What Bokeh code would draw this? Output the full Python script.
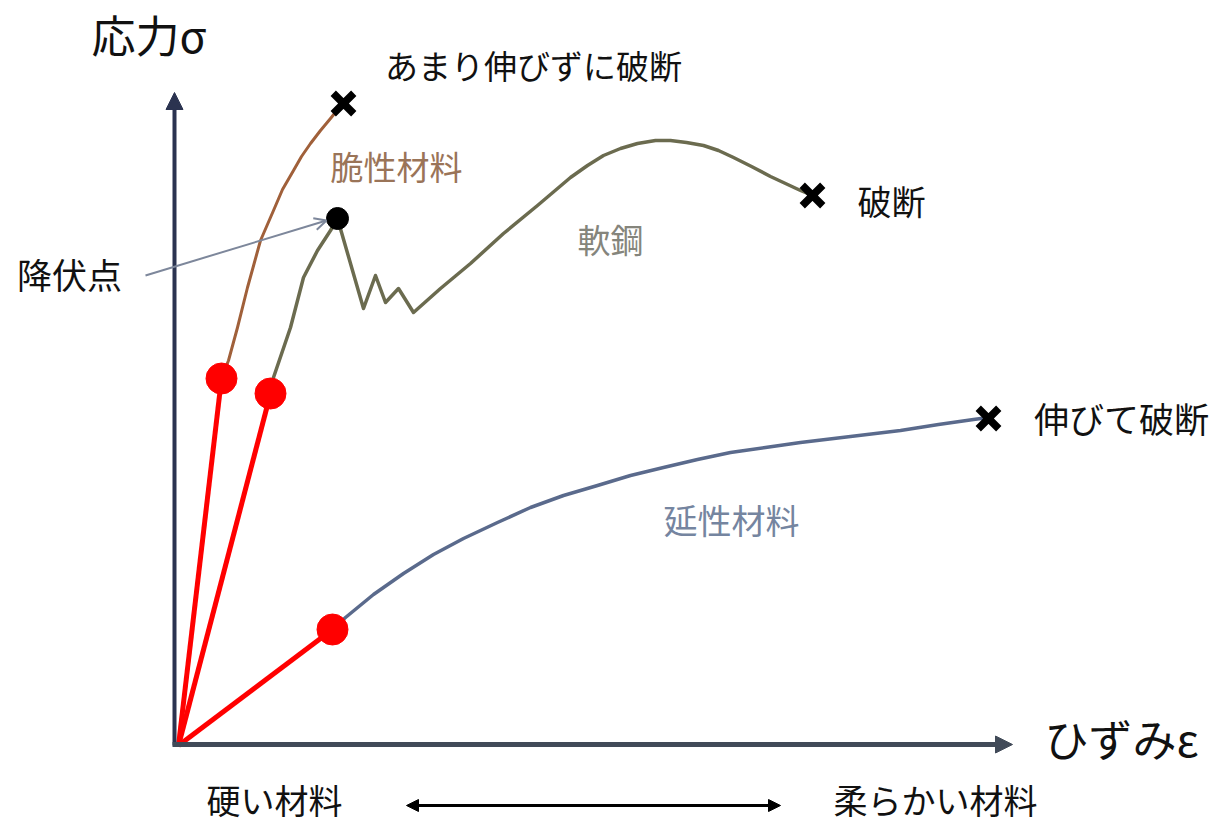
from bokeh.plotting import figure
from bokeh.models import Range1d, Arrow, NormalHead, OpenHead
from bokeh.core.properties import value
from bokeh.embed import file_html
from bokeh.resources import INLINE

FONT = value("Noto Sans CJK JP")

# ---- data (strain, stress in arbitrary units) ----
brittle_x = [0, 4.3, 5.0, 5.9, 6.9, 8.2, 9.5, 10.4, 11.5, 12.3, 13.2, 14.2, 15.2, 16.4]
brittle_y = [0, 36.7, 38.5, 41.8, 45.8, 50.5, 53.5, 55.6, 57.5, 58.9, 60.2, 61.5, 62.7, 64.2]

steel_x = [0, 9.2, 9.5, 11.2, 12.5, 13.9, 15.2, 15.9, 18.5, 19.7, 20.7, 22.0, 23.5,
           26.2, 29.2, 32.5, 35.9, 39.2, 40.9, 42.5, 44.2, 45.9, 47.7, 49.2, 50.8,
           52.5, 54.0, 55.5, 57.3, 59.2, 62.2, 63.4]
steel_y = [0, 35.2, 36.8, 41.8, 46.8, 49.5, 51.5, 52.7, 43.7, 47.0, 44.3, 45.7, 43.3,
           45.7, 48.2, 51.2, 54.0, 56.8, 58.0, 59.0, 59.7, 60.2, 60.5, 60.5, 60.3,
           60.0, 59.5, 58.8, 57.9, 56.9, 55.5, 55.0]

ductile_x = [0, 15.4, 16.7, 19.5, 22.5, 25.5, 28.5, 31.9, 35.2, 38.5, 41.9, 45.2,
             48.5, 51.9, 55.2, 58.7, 62.2, 67.2, 72.2, 76.0, 79.5, 81.0]
ductile_y = [0, 11.6, 12.8, 15.1, 17.2, 19.1, 20.7, 22.3, 23.8, 25.0, 26.0, 27.0,
             27.8, 28.6, 29.3, 29.8, 30.3, 30.9, 31.5, 32.1, 32.6, 32.8]

# elastic limits (red dots) and fracture points (x marks)
limit_x = [4.3, 9.2, 15.4]
limit_y = [36.7, 35.2, 11.6]
fracture_x = [16.5, 63.4, 81.0]
fracture_y = [64.2, 55.0, 32.7]
yield_x = [15.9]
yield_y = [52.7]

# axes extents
axis_x_min, axis_x_max = -0.6, 83.4
axis_y_max = 65.3

# labels
label_text = ["あまり伸びずに破断", "脆性材料", "軟鋼", "破断", "降伏点",
              "伸びて破断", "延性材料", "硬い材料", "柔らかい材料"]
label_x = [35.5, 21.8, 43.2, 71.3, -10.9, 94.3, 55.3, 9.6, 75.7]
label_y = [68.1, 58.0, 50.7, 54.5, 47.2, 32.8, 22.6, -5.4, -5.4]
label_size = ["33px", "33px", "33px", "34px", "35px", "35px", "34px", "34px", "34px"]
label_color = ["#111111", "#9a7458", "#85857c", "#111111", "#111111",
               "#111111", "#7585a0", "#111111", "#111111"]

p = figure(width=1213, height=827, output_backend="svg", toolbar_location=None,
           x_range=Range1d(-17.8, 103.5), y_range=Range1d(-8.2, 74.5),
           min_border=0, tools="")
p.axis.visible = False
p.grid.visible = False
p.outline_line_color = None
p.background_fill_color = "white"

# axes
p.add_layout(Arrow(x_start=-0.4, y_start=0, x_end=-0.4, y_end=axis_y_max,
                   line_color="#2b3350", line_width=4,
                   end=NormalHead(size=17, fill_color="#2b3350", line_color="#2b3350")))
p.add_layout(Arrow(x_start=axis_x_min, y_start=0.1, x_end=axis_x_max, y_end=0.1,
                   line_color="#414a58", line_width=5,
                   end=NormalHead(size=17, fill_color="#414a58", line_color="#414a58")))

# curves
p.line(ductile_x, ductile_y, line_color="#5a6a8c", line_width=3.5, line_join="round")
p.line(steel_x, steel_y, line_color="#6b6b4f", line_width=3.5, line_join="round")
p.line(brittle_x, brittle_y, line_color="#a0603a", line_width=3, line_join="round")

# red elastic lines
for lx, ly in zip(limit_x, limit_y):
    p.line([0, lx], [0, ly], line_color="#ff0000", line_width=5)
p.scatter(limit_x, limit_y, size=31, fill_color="#ff0000", line_color="#ff0000")

# yield point and arrow
p.scatter(yield_x, yield_y, size=22, fill_color="black", line_color="black")
p.add_layout(Arrow(x_start=-3.3, y_start=47.0, x_end=14.8, y_end=52.5,
                   line_color="#7d879b", line_width=2,
                   end=OpenHead(size=12, line_color="#7d879b", line_width=2)))

# fracture marks
p.scatter(fracture_x, fracture_y, marker="x", size=29, line_color="black", line_width=7.5)

# bottom double arrow
p.add_layout(Arrow(x_start=22.8, y_start=-6.0, x_end=60.2, y_end=-6.0,
                   line_color="black", line_width=3,
                   start=NormalHead(size=12, fill_color="black", line_color="black"),
                   end=NormalHead(size=12, fill_color="black", line_color="black")))

# axis titles
p.text(x=[-8.7], y=[71.2], text=["応力σ"], text_font=FONT, text_font_size="44px",
       text_align="left", text_baseline="middle", text_color="#111111")
p.text(x=[86.6], y=[0.8], text=["ひずみε"], text_font=FONT, text_font_size="44px",
       text_align="left", text_baseline="middle", text_color="#111111")

# labels
for t, x, y, s, c in zip(label_text, label_x, label_y, label_size, label_color):
    p.text(x=[x], y=[y], text=[t], text_font=FONT, text_font_size=s,
           text_align="center", text_baseline="middle", text_color=c)

open("out.html", "w").write(file_html(p, INLINE))
